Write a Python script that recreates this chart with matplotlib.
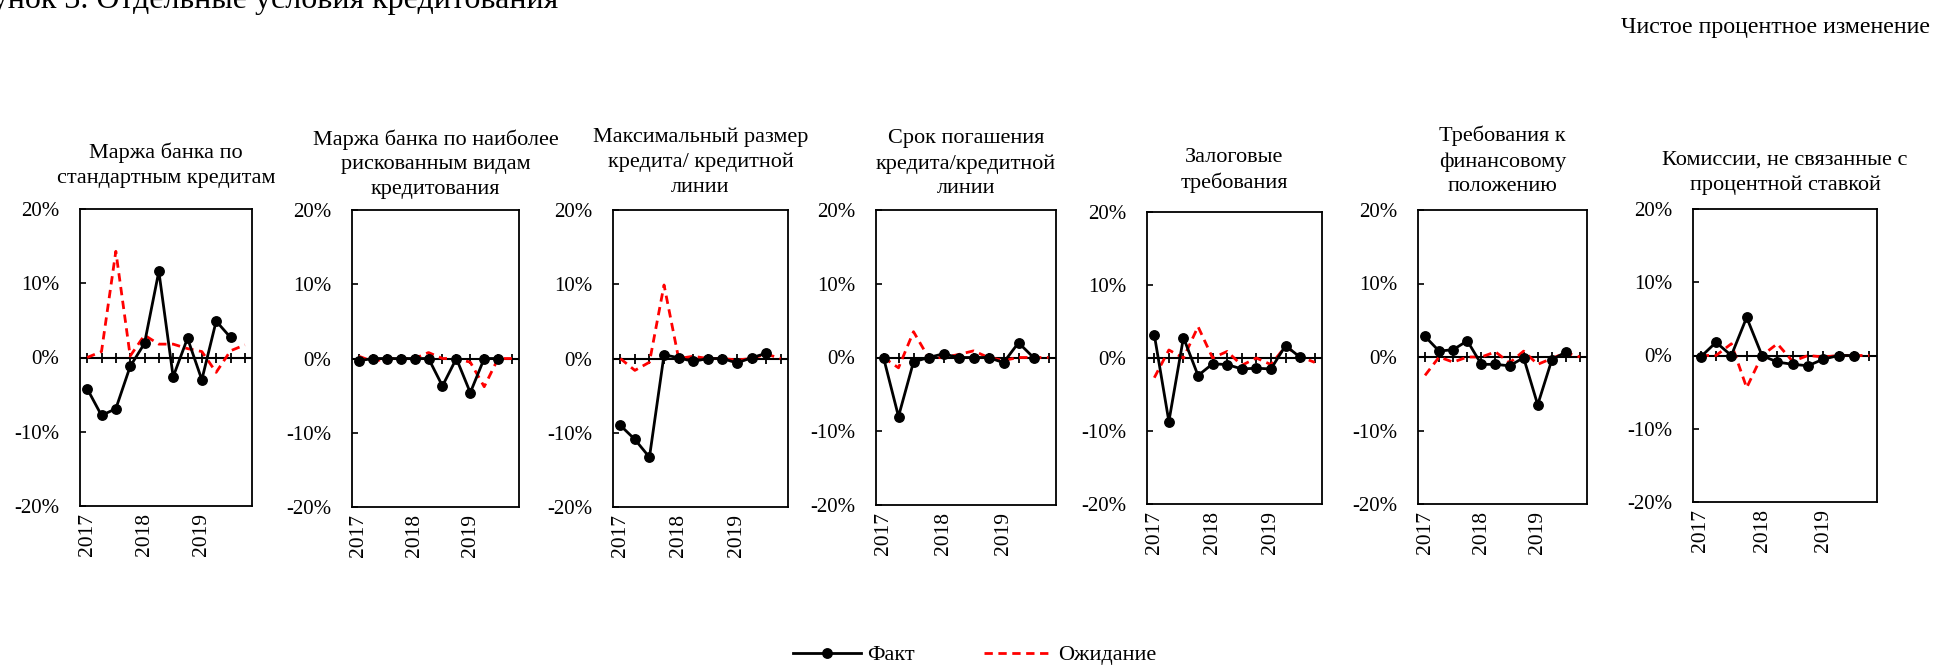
import numpy as np
import matplotlib
matplotlib.use("Agg")
import matplotlib.pyplot as plt
from matplotlib.ticker import FuncFormatter

plt.rcParams['font.family'] = ['Liberation Serif', 'DejaVu Serif']

# quarters 2017Q1 .. 2019Q4
quarters = ["2017", "", "", "", "2018", "", "", "", "2019", "", "", ""]

titles = [
    "Маржа банка по\nстандартным кредитам",
    "Маржа банка по наиболее\nрискованным видам\nкредитования",
    "Максимальный размер\nкредита/ кредитной\nлинии",
    "Срок погашения\nкредита/кредитной\nлинии",
    "Залоговые\nтребования",
    "Требования к\nфинансовому\nположению",
    "Комиссии, не связанные с\nпроцентной ставкой",
]

# Факт (до 2019Q3), %
fact_margin_std = [-4.2, -7.8, -6.9, -1.2, 1.9, 11.6, -2.6, 2.6, -3.0, 4.9, 2.7]
fact_margin_risk = [-0.3, 0, 0, 0, 0, 0, -3.7, 0, -4.6, 0, 0]
fact_max_size = [-9.0, -10.9, -13.3, 0.5, 0.1, -0.4, 0, 0, -0.6, 0.1, 0.7]
fact_maturity = [0, -8.0, -0.6, 0, 0.5, 0, 0, 0, -0.7, 2.0, 0]
fact_collateral = [3.2, -8.7, 2.8, -2.4, -0.8, -0.9, -1.5, -1.4, -1.5, 1.7, 0.1]
fact_financial = [2.8, 0.8, 1.0, 2.2, -1.0, -1.0, -1.2, -0.1, -6.5, -0.4, 0.7]
fact_fees = [-0.2, 1.8, 0, 5.2, 0, -0.9, -1.2, -1.4, -0.5, 0, 0]

# Ожидание (до 2019Q4), %
exp_margin_std = [0, 0.8, 14.3, 0.2, 3.0, 1.8, 1.8, 1.2, 0.8, -2.0, 0.9, 1.7]
exp_margin_risk = [0.3, -0.4, 0, 0, 0, 0.8, 0, 0, -0.5, -3.8, 0, 0]
exp_max_size = [0, -1.6, -0.5, 9.9, 0, 0.3, 0, 0, -0.2, 0, 0.6, 0]
exp_maturity = [0, -1.4, 3.5, 0, 0, 0.4, 0.9, 0, -0.4, 0, 0, 0]
exp_collateral = [-2.7, 1.1, 0, 4.3, 0, 0.9, -1.0, 0, -0.9, 1.6, 0.2, -0.6]
exp_financial = [-2.5, 0, -0.7, 0, 0, 0.7, -0.8, 0.8, -1.0, -0.2, 0.6, 0]
exp_fees = [0, 0, 1.6, -4.4, 0, 1.6, -0.8, 0, -0.2, 0, 0, 0]

facts = [fact_margin_std, fact_margin_risk, fact_max_size, fact_maturity,
         fact_collateral, fact_financial, fact_fees]
expects = [exp_margin_std, exp_margin_risk, exp_max_size, exp_maturity,
           exp_collateral, exp_financial, exp_fees]

W, H = 1954, 665
# axes boxes in pixels: left, right, top, bottom
boxes = [(80, 252, 209, 506), (352, 519, 210, 507), (613, 788, 210, 507),
         (876, 1056, 210, 505), (1147, 1322, 212, 504), (1418, 1587, 210, 504),
         (1693, 1877, 209, 502)]
title_pads = [19, 11.5, 13, 12, 17, 13.5, 14]

fig = plt.figure(figsize=(W / 100, H / 100), dpi=100)
fs = 15

for i, (l, r, t, b) in enumerate(boxes):
    ax = fig.add_axes([l / W, 1 - b / H, (r - l) / W, (b - t) / H])
    x_all = np.arange(len(quarters))
    x_fact = np.arange(len(facts[i]))

    ax.axhline(0, color='black', lw=1.5, zorder=1)
    ax.plot(x_all, np.zeros(len(x_all)), ls='none', marker='|', ms=7,
            mew=1.3, color='black', zorder=1)
    ax.plot(x_all, expects[i], color='#FF0000', lw=2, dashes=(3, 2),
            label='Ожидание', zorder=2)
    ax.plot(x_fact, facts[i], color='black', lw=2, marker='o', ms=6.8,
            label='Факт', zorder=3)

    ax.set_xlim(-0.5, 11.5)
    ax.set_ylim(-20, 20)
    ax.set_yticks([-20, -10, 0, 10, 20])
    ax.yaxis.set_major_formatter(FuncFormatter(lambda v, p: f"{v:.0f}%"))
    ax.set_xticks([0, 4, 8])
    ax.set_xticklabels(["2017", "2018", "2019"], rotation=90, va='top', ha='center')
    ax.tick_params(axis='y', direction='in', length=4.5, width=1.2, pad=15, labelsize=fs)
    ax.tick_params(axis='x', length=0, pad=5, labelsize=15.5)
    for s in ax.spines.values():
        s.set_linewidth(1.3)
    ax.set_title(titles[i], fontsize=16, pad=title_pads[i], linespacing=1.4)

    if i == 0:
        handles, labels = ax.get_legend_handles_labels()

fig.legend(handles[::-1], labels[::-1], loc='center', bbox_to_anchor=(975 / W, 1 - 655 / H),
           ncol=2, frameon=False, fontsize=16, handlelength=3.05, handletextpad=0.3,
           columnspacing=3.1)

fig.text(558 / W, 1 - 8 / H, "Рисунок 3. Отдельные условия кредитования",
         ha='right', va='baseline', fontsize=23)
fig.text(1930 / W, 1 - 33 / H, "Чистое процентное изменение",
         ha='right', va='baseline', fontsize=17.2)

fig.savefig("out.png", dpi=100)
